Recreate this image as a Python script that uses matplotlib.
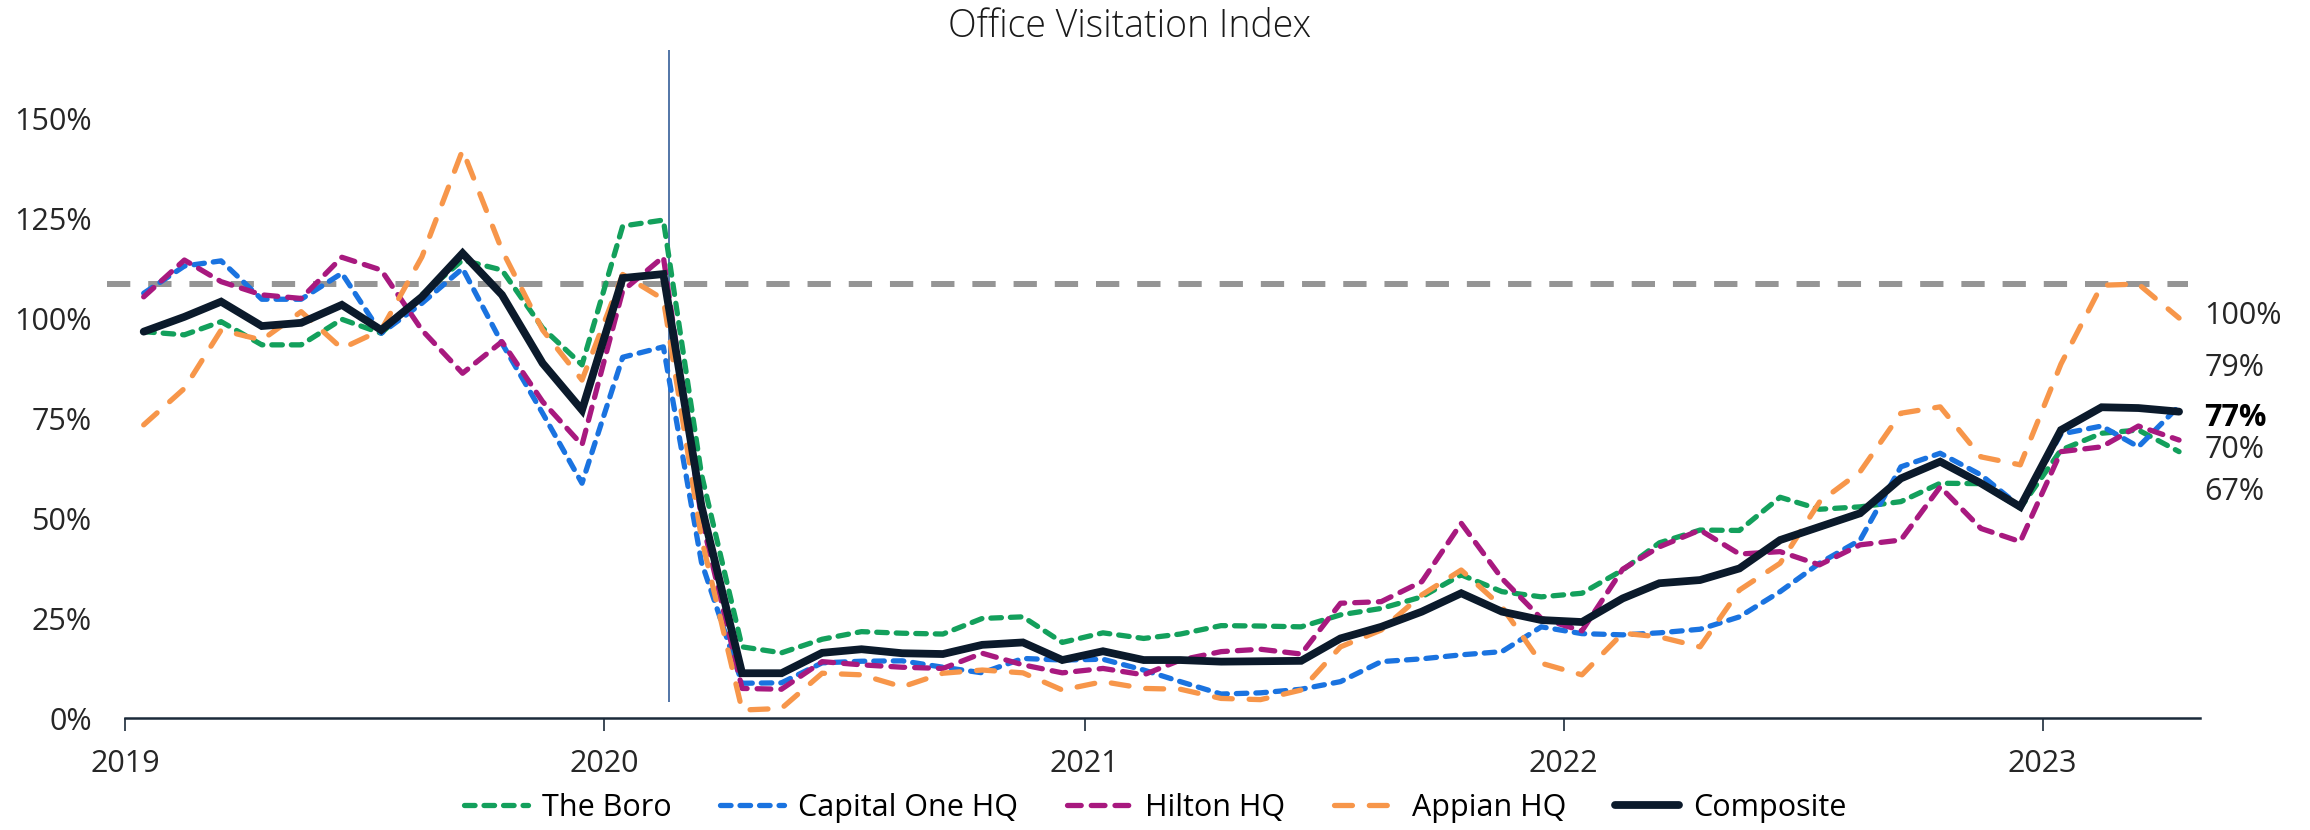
import numpy as np
import pandas as pd
import matplotlib
matplotlib.use("Agg")
import matplotlib.pyplot as plt
import matplotlib.dates as mdates

plt.rcParams['font.family'] = ['Open Sans', 'DejaVu Sans']

# monthly points, Jan 2019 - Apr 2023 (plotted mid-month)
months = pd.date_range('2019-01-01', '2023-04-01', freq='MS') + pd.Timedelta(days=14)

# values in % of pre-pandemic baseline
boro = [96.6, 95.8, 99.1, 93.3, 93.3, 99.7, 96.2, 105.8, 114.5, 112.0, 97.5, 88.3,
        123.0, 124.5, 61.0, 17.8, 16.3, 19.7, 21.6, 21.2, 21.0, 24.9, 25.3, 18.9,
        21.3, 19.9, 21.0, 23.1, 23.0, 22.8, 25.8, 27.4, 30.3, 35.8, 31.6, 30.3,
        31.2, 37.0, 43.8, 47.0, 46.9, 55.2, 52.2, 52.8, 54.1, 58.7, 58.6, 52.5,
        67.0, 71.2, 72.0, 66.6]
capital_one = [106.2, 113.0, 114.3, 104.7, 104.7, 111.2, 96.2, 103.7, 112.4, 93.7, 76.2, 58.7,
               90.2, 92.8, 39.0, 8.7, 8.8, 13.8, 14.2, 14.3, 12.7, 11.3, 14.9, 14.5,
               14.7, 12.0, 9.1, 6.0, 6.3, 7.2, 9.1, 14.1, 14.8, 15.8, 16.6, 22.8,
               21.1, 20.8, 21.3, 22.2, 25.3, 31.6, 38.7, 44.5, 62.8, 66.2, 60.8, 52.8,
               71.0, 73.0, 67.8, 78.0]
hilton = [105.3, 114.5, 109.1, 105.8, 104.9, 115.2, 112.0, 97.0, 86.2, 94.1, 79.1, 68.3,
          106.8, 115.3, 50.0, 7.4, 7.2, 14.1, 13.3, 12.7, 12.4, 16.2, 13.3, 11.3,
          12.4, 10.8, 14.5, 16.6, 17.2, 16.0, 28.7, 29.1, 34.1, 48.7, 34.9, 24.9,
          21.8, 37.2, 42.8, 47.0, 41.0, 41.6, 38.3, 43.3, 44.5, 57.8, 47.4, 44.1,
          66.6, 67.8, 73.0, 69.5]
appian = [73.3, 82.4, 97.0, 94.5, 101.6, 92.4, 97.0, 115.3, 142.0, 117.0, 97.0, 84.5,
          110.9, 104.7, 45.0, 2.0, 2.4, 11.2, 10.8, 7.8, 11.2, 12.0, 11.3, 7.0,
          9.1, 7.4, 7.2, 4.9, 4.6, 7.0, 17.8, 22.0, 30.8, 37.0, 27.8, 13.7,
          10.8, 21.2, 20.3, 17.8, 32.0, 38.7, 54.0, 61.6, 76.2, 77.8, 65.3, 63.3,
          88.5, 108.2, 108.5, 100.0]
composite = [96.6, 100.3, 104.1, 98.0, 98.8, 103.3, 97.0, 105.3, 116.2, 105.8, 88.7, 77.0,
             110.0, 111.0, 53.0, 11.2, 11.2, 16.3, 17.2, 16.2, 16.0, 18.3, 18.9, 14.5,
             16.7, 14.5, 14.5, 14.1, 14.2, 14.3, 19.9, 22.8, 26.6, 31.2, 26.6, 24.5,
             24.0, 29.9, 33.7, 34.5, 37.4, 44.5, 47.8, 51.2, 59.9, 64.1, 58.7, 52.8,
             72.0, 77.7, 77.5, 76.6]

baseline = 108.4
end_labels = ['100%', '79%', '77%', '70%', '67%']
end_label_y = [100.5, 87.5, 75.0, 67.0, 56.5]

fig = plt.figure(figsize=(23.1, 8.3), dpi=100)
ax = fig.add_axes([0.0463, 0.1349, 0.9061, 0.8096])

x_start = pd.Timestamp('2018-12-18')
x_axis0 = pd.Timestamp('2019-01-01')
x_end = pd.Timestamp('2023-05-01')

ax.hlines(baseline, x_start, pd.Timestamp('2023-04-22'), color='#959595', lw=4.3,
          linestyles=(0, (3.9, 3.0)), zorder=1)
ax.vlines(pd.Timestamp('2020-02-19'), 4, 167, color='#23508f', lw=1.1, zorder=2)

ax.plot(months, boro, color='#13a05c', lw=3.8, dashes=(2.0, 1.7),
        dash_capstyle='round', label='The Boro', zorder=3)
ax.plot(months, capital_one, color='#1a73e0', lw=3.8, dashes=(2.0, 1.7),
        dash_capstyle='round', label='Capital One HQ', zorder=3)
ax.plot(months, hilton, color='#a8197f', lw=3.8, dashes=(2.6, 1.9),
        dash_capstyle='round', label='Hilton HQ', zorder=3)
ax.plot(months, appian, color='#f7964a', lw=3.8, dashes=(3.4, 3.2),
        dash_capstyle='round', label='Appian HQ', zorder=3)
ax.plot(months, composite, color='#0b1a2b', lw=5.6, solid_capstyle='round',
        solid_joinstyle='miter', label='Composite', zorder=4)

ax.set_xlim(x_start, x_end)
ax.set_ylim(0, 168)
ax.set_yticks(np.arange(0, 151, 25))
ax.set_yticklabels([f'{v}%' for v in range(0, 151, 25)])
ax.xaxis.set_major_locator(mdates.YearLocator())
ax.xaxis.set_major_formatter(mdates.DateFormatter('%Y'))

for s in ['top', 'right', 'left']:
    ax.spines[s].set_visible(False)
ax.spines['bottom'].set_bounds(mdates.date2num(x_axis0), mdates.date2num(x_end))
ax.spines['bottom'].set_color('#1b2a3a')
ax.spines['bottom'].set_linewidth(1.8)
ax.tick_params(axis='y', length=0, pad=11, labelsize=22, labelcolor='#262626')
ax.tick_params(axis='x', length=9, width=1.2, color='#1b2a3a', pad=13,
               labelsize=22, labelcolor='#262626')

for txt, y in zip(end_labels, end_label_y):
    ax.text(1.002, y, txt, transform=ax.get_yaxis_transform(), ha='left', va='center',
            fontsize=22, color='#000000' if txt == '77%' else '#262626',
            fontweight='bold' if txt == '77%' else 'normal')

fig.text(1130 / 2310, 1 - 27 / 830, 'Office Visitation Index', ha='center', va='center',
         fontsize=27, color='#1a1a1a', fontweight='light')

fig.legend(loc='center', bbox_to_anchor=(0.5, 22 / 830), ncol=5, frameon=False,
           fontsize=22, handlelength=2.1, handletextpad=0.45, columnspacing=1.6)

fig.savefig('out.png', dpi=100)
